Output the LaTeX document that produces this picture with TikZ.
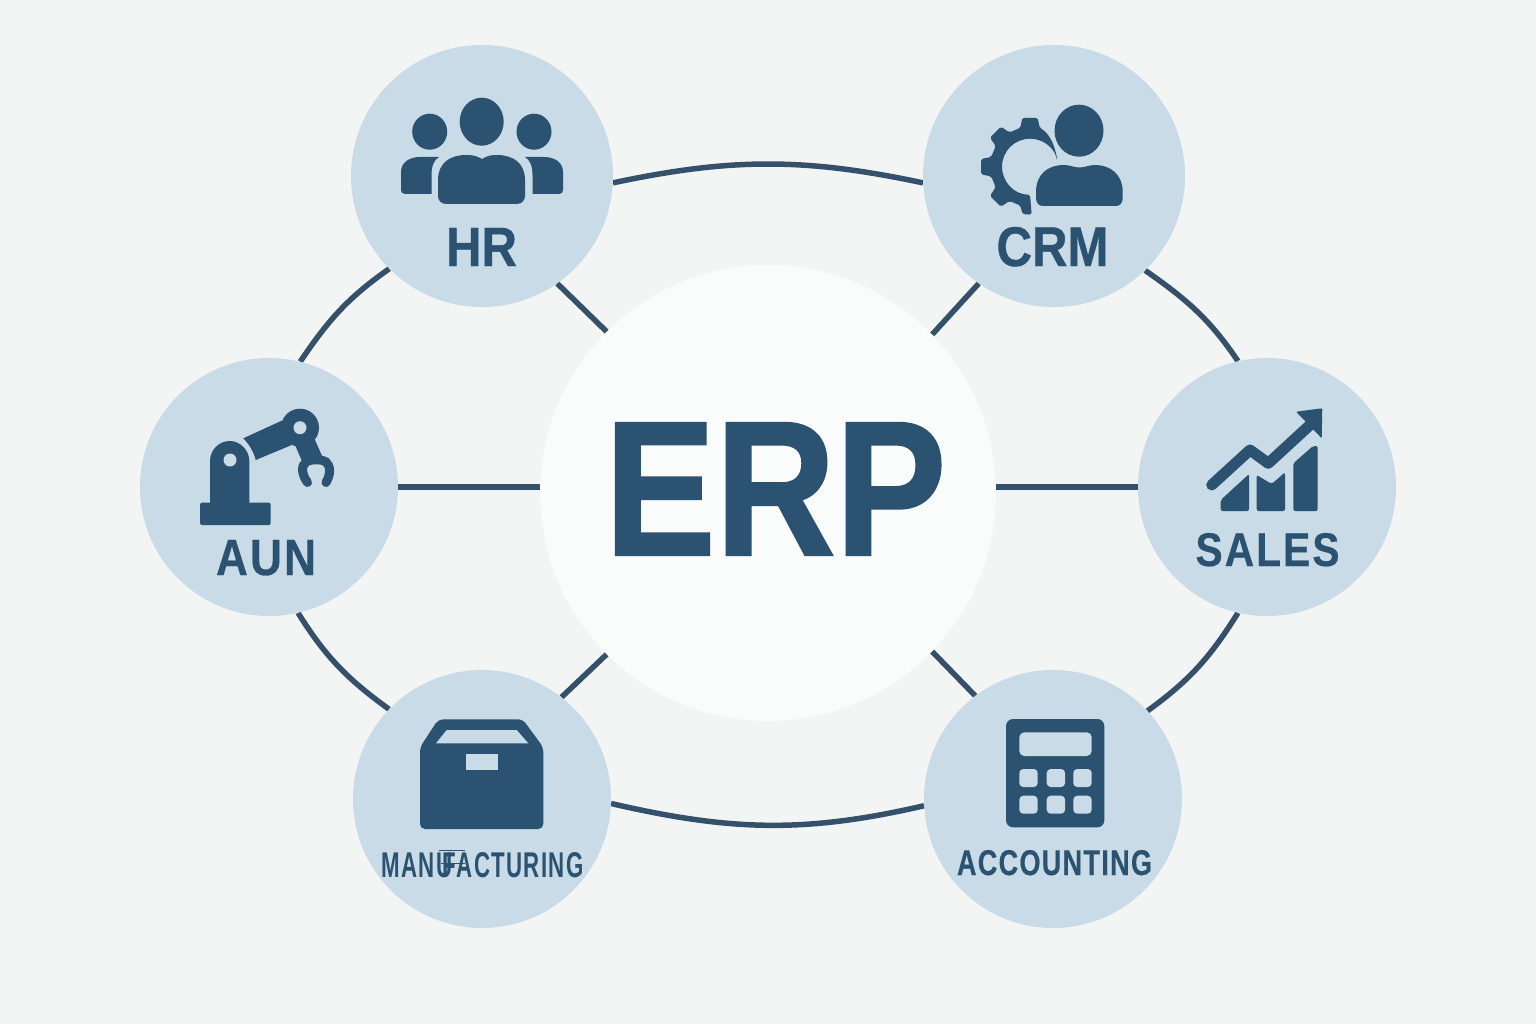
\documentclass[tikz,border=0pt]{standalone}
\usepackage{fontspec}
\usepackage{graphicx}
\setmainfont{Liberation Sans}
\newfontfamily\heavyfont{Liberation Sans}[UprightFont=* Bold,FakeBold=0.7]
\newfontfamily\headfont{Liberation Sans}[UprightFont=* Bold,FakeBold=1.2]
\newfontfamily\spacedfont{Liberation Sans}[UprightFont=* Bold,FakeBold=0.5,LetterSpace=5]
\newfontfamily\thinfont{Liberation Sans}[UprightFont=* Bold,LetterSpace=6]
\usetikzlibrary{backgrounds}
\definecolor{pagebg}{HTML}{F3F4F4}
\definecolor{disc}{HTML}{C8DBE7}
\definecolor{core}{HTML}{FAFBFB}
\definecolor{ink}{HTML}{2B5270}
\definecolor{wire}{HTML}{34506A}
\newcommand{\fitlab}[3]{\resizebox{#1pt}{#2pt}{#3}}
\tikzset{
  module/.style={circle,fill=disc,inner sep=0pt,minimum size=#1},
  hub/.style={circle,fill=core,inner sep=0pt,minimum size=456pt},
  caption/.style={inner sep=0pt,outer sep=0pt,text=ink,anchor=base},
  link/.style={draw=wire,line width=5.5pt},
  icon/.style={fill=ink,draw=none},
  cutout/.style={fill=disc,draw=none}
}
\begin{document}
\begin{tikzpicture}[x=1pt,y=-1pt]
\useasboundingbox (0,0) rectangle (1536,1024);
% nodes
\node[hub] (erp) at (768,493) {};
\node[caption] (erplabel) at (775.5,555) {\resizebox{341pt}{132pt}{\headfont ERP}};
\node[module=262pt] (hr) at (482,176) {};
\node[module=262pt] (crm) at (1054,176) {};
\node[module=258pt] (aun) at (269,487) {};
\node[module=258pt] (sales) at (1267,487) {};
\node[module=258pt] (mfg) at (482,799) {};
\node[module=258pt] (acc) at (1053,799) {};
% connectors
\begin{scope}[on background layer]
\fill[pagebg] (0,0) rectangle (1536,1024);
\draw[link] (hr.-3) to[out=12,in=168] (crm.183);
\draw[link] (hr.225) to[out=215,in=56] (aun.76);
\draw[link] (crm.-46) to[out=-35,in=124] (sales.103.5);
\draw[link] (aun.-77) to[out=-58,in=144] (mfg.136);
\draw[link] (sales.257) to[out=238,in=36] (acc.43.4);
\draw[link] (mfg.-2) to[out=-13,in=193] (acc.183);
\draw[link] (hr.-55.6) -- (erp.135.5);
\draw[link] (crm.235.8) -- (erp.44);
\draw[link] (mfg.52) -- (erp.225);
\draw[link] (acc.127.7) -- (erp.-44.5);
\draw[link] (aun) -- (aun -| erp);
\draw[link] (sales) -- (sales -| erp);
\end{scope}
% captions
\node[caption] (hrlabel) at (481.5,266) {\fitlab{71}{38}{\heavyfont HR}};
\node[caption] (crmlabel) at (1052.5,266) {\fitlab{112}{39}{\heavyfont CRM}};
\node[caption] (aunlabel) at (266,575) {\fitlab{100}{35}{\spacedfont AUN}};
\node[caption] (saleslabel) at (1267.5,566) {\fitlab{144}{33}{\spacedfont SALES}};
\node[caption] (mfglabel) at (482.5,877) {\fitlab{202}{25}{\thinfont MANU\kern-.42em FACTURING}};
\node[caption] (acclabel) at (1054.5,875) {\fitlab{195}{25}{\spacedfont ACCOUNTING}};
% HR icon
\fill[icon] (481.7,121.7) circle[x radius=22pt,y radius=24pt];
\fill[icon] (429.7,131.7) circle[x radius=17.5pt,y radius=18pt];
\fill[icon] (534,131.7) circle[x radius=17.5pt,y radius=18pt];
\fill[icon] (438,196) .. controls (438,200) and (441,204) .. (446,204) -- (517,204) .. controls (522,204) and (525,200) .. (525,196) -- (525,180) .. controls (525,163) and (513,155) .. (497,155) .. controls (490,155) and (487,156) .. (482,159) .. controls (477,156) and (473,155) .. (466,155) .. controls (450,155) and (438,163) .. (438,180) -- cycle;
\fill[icon] (401,172) .. controls (401,162) and (410,157) .. (420,157) -- (439,157) .. controls (434,160) and (431.5,166) .. (431.5,175) -- (431.5,194) -- (405,194) .. controls (402,194) and (401,192) .. (401,190) -- cycle;
\fill[icon] (563,172) .. controls (563,162) and (554,157) .. (544,157) -- (525,157) .. controls (530,160) and (532.5,166) .. (532.5,175) -- (532.5,194) -- (559,194) .. controls (562,194) and (563,192) .. (563,190) -- cycle;
% CRM icon
\fill[icon] (1079,130.7) circle[x radius=24.5pt,y radius=26pt];
\fill[icon] (1036,198) .. controls (1036,203) and (1039,206) .. (1043,206) -- (1116,206) .. controls (1120,206) and (1122.7,203) .. (1122.7,198) -- (1122.7,192) .. controls (1122.7,174) and (1110,165) .. (1095,165) .. controls (1089,165) and (1085,167.5) .. (1079.3,167.5) .. controls (1074,167.5) and (1070,165) .. (1064,165) .. controls (1048,165) and (1036,174) .. (1036,192) -- cycle;
\begin{scope}[shift={(1030,166.7)}]
\fill[icon,rounded corners=1.8pt] (27,-8.7) .. controls (25,-18) and (22,-29) .. (13,-37)
 -- (284:40) -- (279:49.5) -- (261:49.5) -- (256:40)
 -- (239:40) -- (234:49.5) -- (216:49.5) -- (211:40)
 -- (194:40) -- (189:49.5) -- (171:49.5) -- (166:40)
 -- (149:40) -- (144:49.5) -- (126:49.5) -- (121:40)
 -- (104:40) -- (99:48) -- (88:48) -- (0,28)
 arc[start angle=270,end angle=17,radius=28pt] -- cycle;
\end{scope}
% AUN icon
\fill[icon,rounded corners=2pt] (200,502.7) rectangle (270.7,525);
\fill[icon] (210,504) -- (210,461) .. controls (210,450) and (219,441) .. (229.7,441) .. controls (240,441) and (249.3,450) .. (249.3,461) -- (249.3,504) -- cycle;
\fill[cutout] (230,460) circle[radius=6.5pt];
\fill[icon] (243.3,438.3) -- (281.7,420.7) -- (291.7,445) -- (255.7,460) .. controls (254,453) and (250,445) .. (243.3,438.3) -- cycle;
\fill[icon] (295,445) -- (303.3,464) -- (323,458) -- (315,440) -- cycle;
\fill[icon] (300,427.7) circle[radius=19pt];
\fill[cutout] (300,427.7) circle[radius=6.5pt];
\draw[ink,line width=9pt,line cap=round] (307.5,482.5) .. controls (302,475) and (300.5,466) .. (306,462) .. controls (311,459) and (322,459) .. (326,462) .. controls (331,466) and (330.5,475) .. (326,482.5);
% SALES icon
\draw[ink,line width=11pt,line cap=round,line join=round] (1211.7,485) -- (1250,450) -- (1268.3,463.3) -- (1310,425);
\fill[icon,rounded corners=1pt] (1296,411.7) -- (1322.3,408.3) -- (1321.7,438.3) -- cycle;
\fill[icon,rounded corners=2pt] (1220.7,511) -- (1220.7,500) -- (1249,474) -- (1249,511) -- cycle;
\fill[icon,rounded corners=2pt] (1256.7,511) -- (1256.7,475) -- (1271.7,484) -- (1285,472.3) -- (1285,511) -- cycle;
\fill[icon,rounded corners=2pt] (1293.3,511) -- (1293.3,463.3) -- (1313,446) -- (1317.7,446) -- (1317.7,511) -- cycle;
% MANUFACTURING icon
\fill[icon,rounded corners=5pt] (420,829) -- (420,747.3) -- (438.3,719.3) -- (522.7,719.3) -- (543.3,747.3) -- (543.3,829) -- cycle;
\fill[cutout] (446.7,730) -- (516.7,730) -- (528.3,743.3) -- (436,743.3) -- cycle;
\fill[cutout] (465.7,754) rectangle (498.3,770);
\draw[ink,line width=1.4pt] (439,850.5) -- (465,850.5);
\draw[ink,line width=1.4pt] (441,863.5) -- (465,863.5);
% ACCOUNTING icon
\fill[icon,rounded corners=7pt] (1006,719) rectangle (1104.3,827.3);
\fill[cutout,rounded corners=5pt] (1019.3,732.3) rectangle (1091.7,756);
\foreach \bx in {1019.3,1046.7,1073.3} \foreach \by in {769,795.7}
  \fill[cutout,rounded corners=4pt] (\bx,\by) rectangle ++(18.4,18);
\end{tikzpicture}
\end{document}
